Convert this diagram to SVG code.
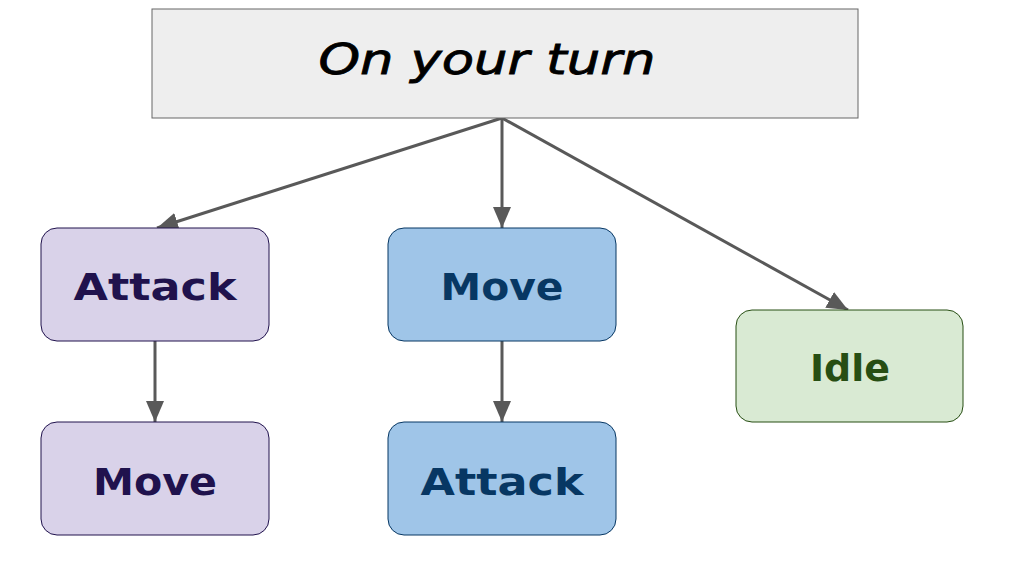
<svg xmlns="http://www.w3.org/2000/svg" width="1018" height="577" viewBox="0 0 1018 577">
<style>
.lbl{font-family:"DejaVu Sans","Liberation Sans",sans-serif;font-weight:bold;font-size:38px;text-anchor:middle}
.purple rect{fill:#d9d2e9;stroke:#20124d;stroke-width:1}
.purple text{fill:#20124d}
.blue rect{fill:#9fc5e8;stroke:#073763;stroke-width:1}
.blue text{fill:#073763}
.green rect{fill:#d9ead3;stroke:#274e13;stroke-width:1}
.green text{fill:#274e13}
.edge{stroke:#595959;stroke-width:3;fill:none}
</style>
<defs>
<marker id="ah" markerUnits="userSpaceOnUse" markerWidth="24" markerHeight="20" refX="21" refY="10" orient="auto">
<path d="M0,1 L21,10 L0,19 Z" fill="#595959"/>
</marker>
</defs>
<rect width="1018" height="577" fill="#ffffff"/>
<g id="edges">
<line class="edge" x1="502" y1="118" x2="157" y2="228" marker-end="url(#ah)"/>
<line class="edge" x1="502" y1="118" x2="502" y2="228" marker-end="url(#ah)"/>
<line class="edge" x1="502" y1="118" x2="848" y2="310" marker-end="url(#ah)"/>
<line class="edge" x1="155" y1="341" x2="155" y2="422" marker-end="url(#ah)"/>
<line class="edge" x1="502" y1="341" x2="502" y2="422" marker-end="url(#ah)"/>
</g>
<g id="turn">
<rect x="152" y="9" width="706" height="109" fill="#eeeeee" stroke="#666666" stroke-width="1"/>
<text x="487" y="74" font-family="DejaVu Sans, Liberation Sans, sans-serif" font-style="italic" font-size="42" text-anchor="middle" fill="#000000" stroke="#000000" stroke-width="0.8" textLength="337" lengthAdjust="spacingAndGlyphs">On your turn</text>
</g>
<g id="attack1" class="purple">
<rect x="41" y="228" width="228" height="113" rx="16"/>
<text class="lbl" x="155" y="300" textLength="163" lengthAdjust="spacingAndGlyphs">Attack</text>
</g>
<g id="move1" class="purple">
<rect x="41" y="422" width="228" height="113" rx="16"/>
<text class="lbl" x="155" y="495" textLength="124" lengthAdjust="spacingAndGlyphs">Move</text>
</g>
<g id="move2" class="blue">
<rect x="388" y="228" width="228" height="113" rx="16"/>
<text class="lbl" x="502" y="300" textLength="123" lengthAdjust="spacingAndGlyphs">Move</text>
</g>
<g id="attack2" class="blue">
<rect x="388" y="422" width="228" height="113" rx="16"/>
<text class="lbl" x="502" y="495" textLength="163" lengthAdjust="spacingAndGlyphs">Attack</text>
</g>
<g id="idle" class="green">
<rect x="736" y="310" width="227" height="112" rx="16"/>
<text class="lbl" x="850" y="381" textLength="80" lengthAdjust="spacingAndGlyphs">Idle</text>
</g>
</svg>
